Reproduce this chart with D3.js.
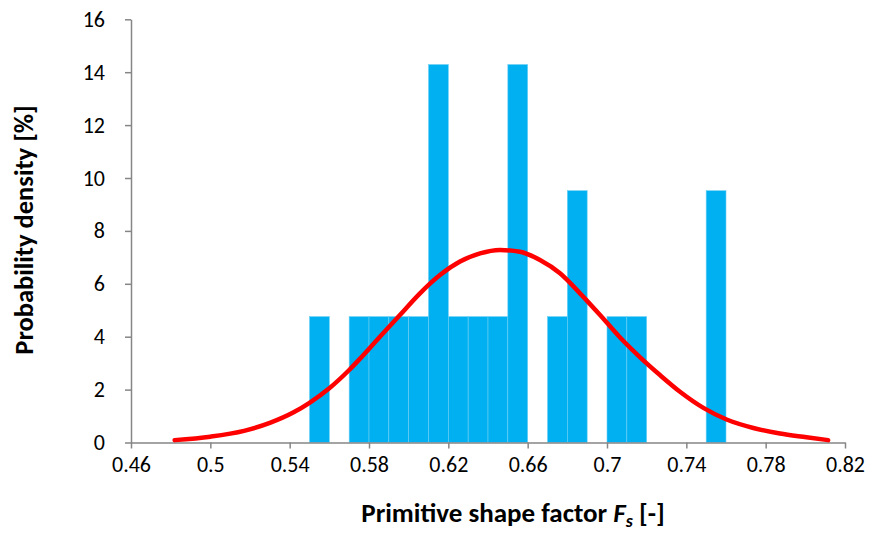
<!DOCTYPE html>
<html>
<head>
<meta charset="utf-8">
<script src="https://cdn.jsdelivr.net/npm/d3@7"></script>
<style>
  body { margin: 0; background: #fff; }
  svg text { font-family: Carlito, Calibri, "Liberation Sans Narrow", "Open Sans", sans-serif; fill: #000; }
</style>
</head>
<body>
<svg id="chart" width="875" height="533"></svg>
<script>
// histogram bins (left edge) and probability density [%]
let binStart = [0.55, 0.57, 0.58, 0.59, 0.60, 0.61, 0.62, 0.63, 0.64, 0.65, 0.67, 0.68, 0.70, 0.71, 0.75];
let binValue = [4.76, 4.76, 4.76, 4.76, 4.76, 14.29, 4.76, 4.76, 4.76, 14.29, 4.76, 9.52, 4.76, 4.76, 9.52];
let binWidth = 0.01;

// fitted curve
let curveX = [0.482, 0.500, 0.517, 0.530, 0.542, 0.550, 0.560, 0.570, 0.5755, 0.5855, 0.5956, 0.6057, 0.6158,
              0.6259, 0.636, 0.646, 0.6561, 0.6662, 0.6763, 0.6864, 0.6965, 0.7066, 0.7167, 0.7267, 0.7368,
              0.7486, 0.7603, 0.7738, 0.7872, 0.8006, 0.8115];
let curveY = [0.09, 0.22, 0.44, 0.74, 1.14, 1.50, 2.05, 2.74, 3.17, 4.00, 4.82, 5.64, 6.33,
              6.84, 7.15, 7.28, 7.21, 6.90, 6.40, 5.64, 4.82, 3.97, 3.22, 2.55, 1.92,
              1.31, 0.87, 0.55, 0.34, 0.20, 0.09];

let xTicks = [0.46, 0.5, 0.54, 0.58, 0.62, 0.66, 0.7, 0.74, 0.78, 0.82];
let yTicks = [0, 2, 4, 6, 8, 10, 12, 14, 16];

let svg = d3.select('#chart');
let x = d3.scaleLinear().domain([0.46, 0.82]).range([131, 845]);
let y = d3.scaleLinear().domain([0, 16]).range([442.5, 19.3]);

// bars
svg.append('g')
  .selectAll('rect')
  .data(binStart.map((d, i) => ({x0: d, v: binValue[i]})))
  .join('rect')
  .attr('x', d => x(d.x0))
  .attr('width', d => x(d.x0 + binWidth) - x(d.x0))
  .attr('y', d => y(d.v))
  .attr('height', d => y(0) - y(d.v))
  .attr('fill', '#00b0f0')
  .attr('stroke', '#6cd0f5')
  .attr('stroke-width', 0.6);

// axes
let axisColor = '#868686';
let xAxis = svg.append('g')
  .attr('transform', `translate(0,${y(0)})`)
  .call(d3.axisBottom(x).tickValues(xTicks).tickSize(6).tickSizeOuter(0).tickFormat(d3.format('')));
let yAxis = svg.append('g')
  .attr('transform', `translate(${x(0.46)},0)`)
  .call(d3.axisLeft(y).tickValues(yTicks).tickSize(6).tickSizeOuter(0));

for (let ax of [xAxis, yAxis]) {
  ax.select('.domain').attr('stroke', axisColor).attr('stroke-width', 1.5);
  ax.selectAll('.tick line').attr('stroke', axisColor).attr('stroke-width', 1.5);
  ax.selectAll('.tick text').attr('font-size', 22).attr('font-family', null).attr('fill', '#000');
}
xAxis.selectAll('.tick text').attr('dy', '0.71em').attr('y', 14);
yAxis.selectAll('.tick text').attr('x', -26);

// fitted curve
let line = d3.line()
  .x((d, i) => x(curveX[i]))
  .y(d => y(d))
  .curve(d3.curveMonotoneX);
svg.append('path')
  .attr('d', line(curveY))
  .attr('fill', 'none')
  .attr('stroke', '#ff0000')
  .attr('stroke-width', 4.5)
  .attr('stroke-linecap', 'round');

// titles
svg.append('text')
  .attr('transform', 'translate(33,230) rotate(-90)')
  .attr('text-anchor', 'middle')
  .attr('font-size', 26.5)
  .attr('font-weight', 'bold')
  .text('Probability density [%]');

let xt = svg.append('text')
  .attr('x', 513)
  .attr('y', 522)
  .attr('text-anchor', 'middle')
  .attr('font-size', 27)
  .attr('font-weight', 'bold');
xt.append('tspan').text('Primitive shape factor ');
xt.append('tspan').attr('font-style', 'italic').text('F');
xt.append('tspan').attr('font-style', 'italic').attr('font-size', 18).attr('dy', 5).text('s');
xt.append('tspan').attr('dy', -5).text(' [-]');
</script>
</body>
</html>
